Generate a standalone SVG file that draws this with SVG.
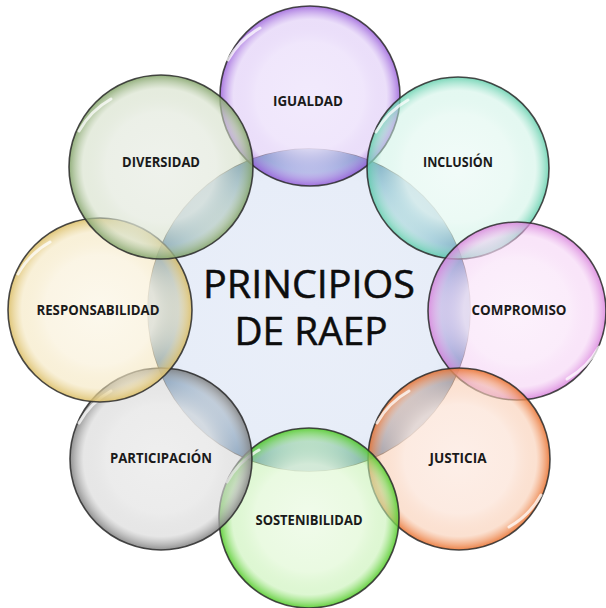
<svg xmlns="http://www.w3.org/2000/svg" xmlns:xlink="http://www.w3.org/1999/xlink" width="606" height="608" viewBox="0 0 606 608">
<defs>
<style>
.ring{stroke:#2a2a2a;stroke-opacity:0.85;stroke-width:1.6}
.lbl{font-family:"Open Sans","Liberation Sans",sans-serif;font-weight:700;font-size:13.5px;fill:#1a1a1a;text-anchor:middle}
.big{font-family:"Open Sans","Liberation Sans",sans-serif;font-weight:400;font-size:38px;fill:#0d0d0d;text-anchor:middle;stroke:#0d0d0d;stroke-width:0.5}
.hl{fill:none;stroke:#fff;stroke-width:3;stroke-linecap:round;stroke-opacity:0.75}
</style>
<radialGradient id="gC"><stop offset="0" stop-color="#eaeff9"/><stop offset="0.85" stop-color="#e7edf8"/><stop offset="1" stop-color="#dfe7f4"/></radialGradient>
<radialGradient id="gRim"><stop offset="0.7" stop-color="#d6e3f2" stop-opacity="0"/><stop offset="0.77" stop-color="#bcd2ea" stop-opacity="0.8"/><stop offset="0.9" stop-color="#82aad4"/><stop offset="1" stop-color="#4f80b2"/></radialGradient>
<radialGradient id="g1"><stop offset="0" stop-color="#f1e9fc" stop-opacity="0.95"/><stop offset="0.6" stop-color="#ede2fb" stop-opacity="0.85"/><stop offset="0.85" stop-color="#d7bff4" stop-opacity="0.5"/><stop offset="1" stop-color="#9a5fda" stop-opacity="0.85"/></radialGradient>
<radialGradient id="g2"><stop offset="0" stop-color="#f1fbf8" stop-opacity="0.95"/><stop offset="0.6" stop-color="#e8f9f3" stop-opacity="0.85"/><stop offset="0.85" stop-color="#c9f1e3" stop-opacity="0.5"/><stop offset="1" stop-color="#62cfac" stop-opacity="0.85"/></radialGradient>
<radialGradient id="g3"><stop offset="0" stop-color="#fcf1fc" stop-opacity="0.95"/><stop offset="0.6" stop-color="#fae9fa" stop-opacity="0.85"/><stop offset="0.85" stop-color="#f3cbf3" stop-opacity="0.5"/><stop offset="1" stop-color="#d982dc" stop-opacity="0.85"/></radialGradient>
<radialGradient id="g4"><stop offset="0" stop-color="#fdeee7" stop-opacity="0.95"/><stop offset="0.6" stop-color="#fce7dc" stop-opacity="0.85"/><stop offset="0.85" stop-color="#f8c8ab" stop-opacity="0.55"/><stop offset="1" stop-color="#ea7433" stop-opacity="0.9"/></radialGradient>
<radialGradient id="g5"><stop offset="0" stop-color="#f0fbea" stop-opacity="0.95"/><stop offset="0.6" stop-color="#e6f9dc" stop-opacity="0.85"/><stop offset="0.85" stop-color="#c2f0ae" stop-opacity="0.55"/><stop offset="1" stop-color="#55cc2c" stop-opacity="0.9"/></radialGradient>
<radialGradient id="g6"><stop offset="0" stop-color="#eeeeee" stop-opacity="0.95"/><stop offset="0.6" stop-color="#e8e8e8" stop-opacity="0.85"/><stop offset="0.85" stop-color="#d2d2d2" stop-opacity="0.55"/><stop offset="1" stop-color="#848484" stop-opacity="0.9"/></radialGradient>
<radialGradient id="g7"><stop offset="0" stop-color="#fcf8ec" stop-opacity="0.95"/><stop offset="0.6" stop-color="#faf3e0" stop-opacity="0.85"/><stop offset="0.85" stop-color="#f3e4b8" stop-opacity="0.55"/><stop offset="1" stop-color="#dcbf68" stop-opacity="0.9"/></radialGradient>
<radialGradient id="g8"><stop offset="0" stop-color="#eef1eb" stop-opacity="0.95"/><stop offset="0.6" stop-color="#e8ede3" stop-opacity="0.85"/><stop offset="0.85" stop-color="#d0dcc3" stop-opacity="0.55"/><stop offset="1" stop-color="#86a66d" stop-opacity="0.9"/></radialGradient>
<clipPath id="outerUnion">
<circle cx="310" cy="96" r="90"/><circle cx="458" cy="168" r="91"/><circle cx="517" cy="311" r="89"/><circle cx="459" cy="459" r="91"/>
<circle cx="309" cy="518" r="90"/><circle cx="161" cy="459" r="91"/><circle cx="100" cy="310" r="92"/><circle cx="161" cy="167" r="92"/>
</clipPath>
<path id="hlA" d="M -82 -36 A 84 84 0 0 1 -50 -68"/>
<path id="hlB" d="M 82 36 A 84 84 0 0 1 50 68"/>
</defs>
<rect width="606" height="608" fill="#ffffff"/>

<g id="center-node">
<circle cx="309" cy="310" r="161" fill="url(#gC)" class="ring"/>
<circle cx="309" cy="310" r="161" fill="url(#gRim)" clip-path="url(#outerUnion)"/>
<text class="big" x="309" y="298" textLength="212" lengthAdjust="spacingAndGlyphs">PRINCIPIOS</text>
<text class="big" x="311" y="345" textLength="153" lengthAdjust="spacingAndGlyphs">DE RAEP</text>
</g>

<g id="node-igualdad">
<circle cx="310" cy="96" r="90" fill="url(#g1)" class="ring"/>
<use xlink:href="#hlA" href="#hlA" x="310" y="96" class="hl"/>
<text class="lbl" x="308" y="106" textLength="70" lengthAdjust="spacingAndGlyphs">IGUALDAD</text>
</g>
<g id="node-inclusion">
<circle cx="458" cy="168" r="91" fill="url(#g2)" class="ring"/>
<use xlink:href="#hlA" href="#hlA" x="458" y="168" class="hl"/>
<text class="lbl" x="458" y="167" textLength="70" lengthAdjust="spacingAndGlyphs">INCLUSIÓN</text>
</g>
<g id="node-compromiso">
<circle cx="517" cy="311" r="89" fill="url(#g3)" class="ring"/>
<use xlink:href="#hlB" href="#hlB" x="517" y="311" class="hl"/>
<text class="lbl" x="519" y="315" textLength="95" lengthAdjust="spacingAndGlyphs">COMPROMISO</text>
</g>
<g id="node-justicia">
<circle cx="459" cy="459" r="91" fill="url(#g4)" class="ring"/>
<use xlink:href="#hlB" href="#hlB" x="459" y="459" class="hl"/>
<use xlink:href="#hlA" href="#hlA" x="459" y="459" class="hl"/>
<text class="lbl" x="458" y="463" textLength="57" lengthAdjust="spacingAndGlyphs">JUSTICIA</text>
</g>
<g id="node-sostenibilidad">
<circle cx="309" cy="518" r="90" fill="url(#g5)" class="ring"/>
<use xlink:href="#hlA" href="#hlA" x="309" y="518" class="hl"/>
<text class="lbl" x="309" y="525" textLength="107" lengthAdjust="spacingAndGlyphs">SOSTENIBILIDAD</text>
</g>
<g id="node-participacion">
<circle cx="161" cy="459" r="91" fill="url(#g6)" class="ring"/>
<use xlink:href="#hlA" href="#hlA" x="161" y="459" class="hl"/>
<text class="lbl" x="161" y="463" textLength="102" lengthAdjust="spacingAndGlyphs">PARTICIPACIÓN</text>
</g>
<g id="node-responsabilidad">
<circle cx="100" cy="310" r="92" fill="url(#g7)" class="ring"/>
<use xlink:href="#hlA" href="#hlA" x="100" y="310" class="hl"/>
<text class="lbl" x="98" y="315" textLength="123" lengthAdjust="spacingAndGlyphs">RESPONSABILIDAD</text>
</g>
<g id="node-diversidad">
<circle cx="161" cy="167" r="92" fill="url(#g8)" class="ring"/>
<use xlink:href="#hlA" href="#hlA" x="161" y="167" class="hl"/>
<text class="lbl" x="161" y="167" textLength="78" lengthAdjust="spacingAndGlyphs">DIVERSIDAD</text>
</g>
<g id="connectors"/>
</svg>
